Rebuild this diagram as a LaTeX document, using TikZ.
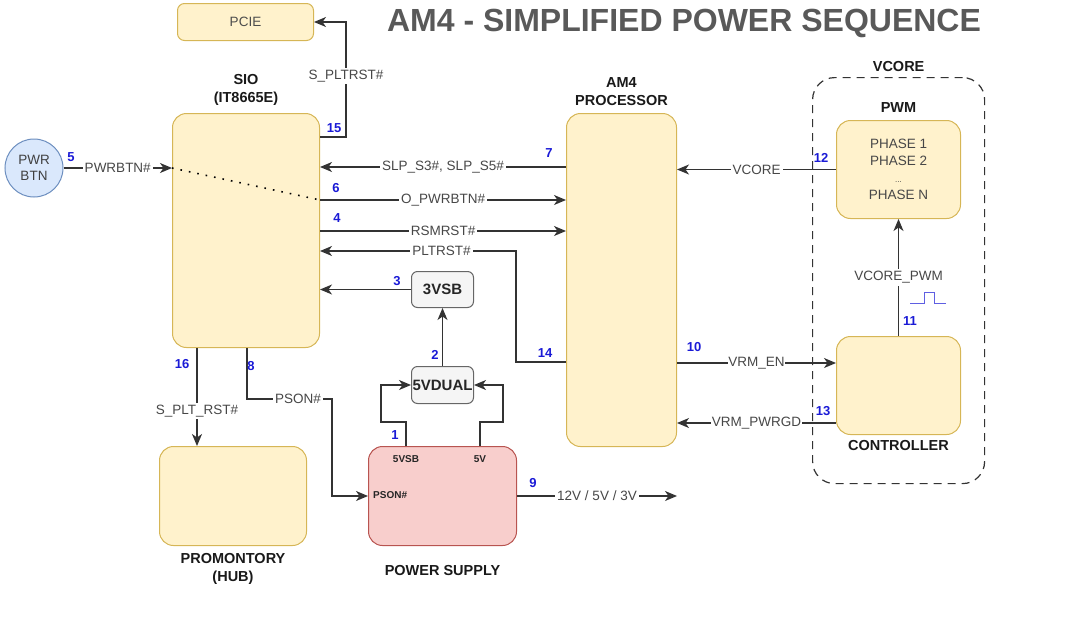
\documentclass[tikz,border=0pt]{standalone}
\usepackage{fontspec}
\setmainfont{Liberation Sans}
\usetikzlibrary{arrows.meta,positioning,shapes}

\definecolor{blockfill}{HTML}{FFF2CC}
\definecolor{blockdraw}{HTML}{D6B656}
\definecolor{psfill}{HTML}{F8CECC}
\definecolor{psdraw}{HTML}{B85450}
\definecolor{btnfill}{HTML}{DAE8FC}
\definecolor{btndraw}{HTML}{6C8EBF}
\definecolor{regfill}{HTML}{F5F5F5}
\definecolor{regdraw}{HTML}{666666}
\definecolor{numblue}{HTML}{1A1AD6}
\definecolor{wiregray}{HTML}{333333}
\definecolor{titlegray}{HTML}{595959}

\begin{document}
\begin{tikzpicture}[
    x=1pt, y=-1pt,
    node distance=4pt,
    block/.style={
      rectangle, draw=blockdraw, fill=blockfill, line width=1pt,
      rounded corners=14pt, inner sep=0pt, anchor=north west
    },
    regbox/.style={
      rectangle, draw=regdraw, fill=regfill, line width=1pt,
      rounded corners=6pt, inner sep=0pt, anchor=north west,
      font=\fontsize{15}{17}\selectfont\bfseries, text=black!85
    },
    caption/.style={font=\fontsize{14.5}{18}\selectfont\bfseries, align=center, text=black!90},
    wire/.style={draw=wiregray, line width=1.2pt, -{Stealth[length=12pt,width=10pt,inset=3.5pt]}},
    lbl/.style={fill=white, inner sep=2pt, text=black!72, font=\fontsize{13.5}{15}\selectfont},
    num/.style={text=numblue, inner sep=0pt, font=\fontsize{13}{15}\selectfont\bfseries},
    pin/.style={inner sep=0pt, text=black!85, font=\fontsize{10}{12}\selectfont\bfseries}
  ]
  \useasboundingbox (0,0) rectangle (1067,621);

  % title
  \node[text=titlegray, font=\fontsize{32}{36}\selectfont\bfseries] (title) at (684,23) {AM4 - SIMPLIFIED POWER SEQUENCE};

  % blocks
  \node[block, minimum width=136pt, minimum height=37pt, rounded corners=7pt,
        text=black!70, font=\fontsize{13.5}{15}\selectfont] (pcie) at (177,3) {PCIE};
  \node[block, minimum width=147pt, minimum height=234pt] (sio) at (172,113) {};
  \node[caption, above=of sio] (siocap) {SIO\\(IT8665E)};
  \node[block, minimum width=110pt, minimum height=333pt] (am4) at (566,113) {};
  \node[caption, above=of am4] (am4cap) {AM4\\PROCESSOR};
  \node[circle, draw=btndraw, fill=btnfill, line width=1pt, minimum size=58pt, inner sep=0pt,
        align=center, text=black!75, font=\fontsize{13.5}{16}\selectfont] (btn) at (34,168) {PWR\\BTN};
  \node[regbox, minimum width=62pt, minimum height=36pt] (vsb) at (411,271) {3VSB};
  \node[regbox, minimum width=62pt, minimum height=37pt] (dual) at (411,366) {5VDUAL};
  \node[block, draw=psdraw, fill=psfill, minimum width=148pt, minimum height=99pt] (ps) at (368,446) {};
  \node[caption, below=16pt of ps] (pscap) {POWER SUPPLY};
  \node[block, minimum width=147pt, minimum height=99pt] (prom) at (159,446) {};
  \node[caption, below=of prom] (promcap) {PROMONTORY\\(HUB)};

  % vcore group
  \node[rectangle, draw=wiregray, line width=1.2pt, dash pattern=on 8pt off 6pt,
        rounded corners=22pt, minimum width=172pt, minimum height=406pt, anchor=north west] (vgrp) at (812,77) {};
  \node[caption, above=2pt of vgrp] (vgrpcap) {VCORE};
  \node[block, minimum width=124pt, minimum height=98pt, align=center, text=black!72,
        font=\fontsize{13.5}{17}\selectfont] (pwm) at (836,120) {PHASE 1\\PHASE 2\\{\fontsize{8}{17}\selectfont ...}\\PHASE N};
  \node[caption, above=of pwm] (pwmcap) {PWM};
  \node[block, minimum width=124pt, minimum height=98pt] (ctrl) at (836,336) {};
  \node[caption, below=2pt of ctrl] (ctrlcap) {CONTROLLER};

  % power supply pins
  \node[pin] (p5vsb) at (406,459) {5VSB};
  \node[pin] (p5v) at (480,459) {5V};
  \node[pin, anchor=west] (ppson) at (373,495) {PSON\#};

  % connection points
  \coordinate (en) at ([yshift=-27pt]ctrl.north west);
  \coordinate (pg) at ([yshift=-87pt]ctrl.north west);

  % signals
  \draw[wire] (btn.east) -- (sio.west |- btn.east) node[lbl, midway] {PWRBTN\#};
  \draw[draw=black, line width=1.6pt, dash pattern=on 1.6pt off 7pt] (sio.west |- btn.east) -- ([yshift=-87pt]sio.north east);
  \draw[wire] ([yshift=-24pt]sio.north east) -- ++(26,0) |- (pcie.east) node[lbl, pos=0.265] {S\_PLTRST\#};
  \draw[wire] ([yshift=-54pt]am4.north west) -- ([yshift=-54pt]sio.north east) node[lbl, midway] {SLP\_S3\#, SLP\_S5\#};
  \draw[wire] ([yshift=-87pt]sio.north east) -- ([yshift=-87pt]am4.north west) node[lbl, midway] {O\_PWRBTN\#};
  \draw[wire] ([yshift=-118pt]sio.north east) -- ([yshift=-118pt]am4.north west) node[lbl, midway] {RSMRST\#};
  \draw[wire] ([yshift=-249pt]am4.north west) -- ++(-50,0) |- ([yshift=-138pt]sio.north east) node[lbl, pos=0.69] {PLTRST\#};
  \draw[wire] (vsb.west) -- (sio.east |- vsb.west);
  \draw[wire] (dual.north) -- (vsb.south);
  \draw[wire] (p5vsb |- ps.north) -- ++(0,-24) -- ++(-25,0) |- (dual.west);
  \draw[wire] (p5v |- ps.north) -- ++(0,-24) -- ++(23,0) |- (dual.east);
  \draw[wire] (ps.east) -- (ps.east -| am4.east) node[lbl, midway] {12V / 5V / 3V};
  \draw[wire] ([xshift=75pt]sio.south west) -- ++(0,51) -- ++(85,0) node[lbl, pos=0.6] {PSON\#} |- (ps.west);
  \draw[wire] ([xshift=25pt]sio.south west) coordinate (s16) -- (s16 |- prom.north) node[lbl, pos=0.64] {S\_PLT\_RST\#};
  \draw[wire] (pwm.west) -- (am4.east |- pwm.west) node[lbl, midway] {VCORE};
  \draw[wire] (ctrl.north) -- (pwm.south) node[lbl, midway] {VCORE\_PWM};
  \draw[wire] (am4.east |- en) -- (en) node[lbl, midway, inner sep=0.5pt] {VRM\_EN};
  \draw[wire] (pg) -- (am4.east |- pg) node[lbl, midway, inner sep=0.5pt] {VRM\_PWRGD};

  % pulse
  \draw[numblue!70, line width=1pt] (910,303) -- (924,303) -- (924,292) -- (934,292) -- (934,303) -- (946,303);

  % step numbers
  \node[num] (n1) at (395,435) {1};
  \node[num] (n2) at (435,355) {2};
  \node[num] (n3) at (397,281) {3};
  \node[num] (n4) at (337,218) {4};
  \node[num] (n5) at (71,157) {5};
  \node[num] (n6) at (336,188) {6};
  \node[num] (n7) at (549,153) {7};
  \node[num] (n8) at (251,366) {8};
  \node[num] (n9) at (533,483) {9};
  \node[num] (n10) at (694,347) {10};
  \node[num] (n11) at (910,321) {11};
  \node[num] (n12) at (821,158) {12};
  \node[num] (n13) at (823,411) {13};
  \node[num] (n14) at (545,353) {14};
  \node[num] (n15) at (334,128) {15};
  \node[num] (n16) at (182,364) {16};
\end{tikzpicture}
\end{document}
